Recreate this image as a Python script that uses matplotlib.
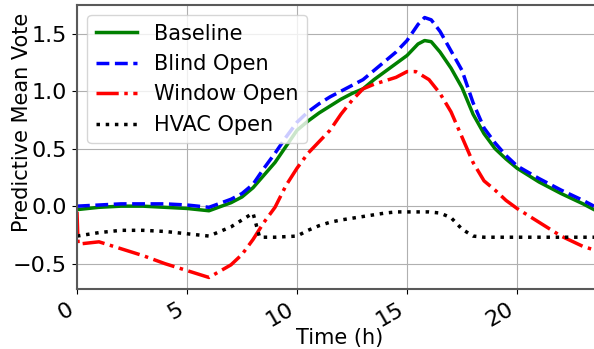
import numpy as np
from matplotlib import pyplot as plt

# hours and predicted mean vote for each case
base_t = [0, 1, 2, 3, 4, 5, 6, 7, 7.5, 8, 8.5, 9, 9.5, 10, 10.5, 11, 11.5, 12, 12.5, 13, 13.5, 14, 14.5, 15,
          15.5, 15.8, 16.1, 16.5, 17, 17.5, 18, 18.5, 19, 19.5, 20, 21, 22, 23, 23.5]
base_v = [-0.03, -0.01, 0.0, 0.0, -0.01, -0.02, -0.04, 0.03, 0.08, 0.16, 0.27, 0.38, 0.52, 0.66, 0.74, 0.81, 0.87,
          0.93, 0.98, 1.02, 1.1, 1.17, 1.24, 1.31, 1.41, 1.44, 1.43, 1.34, 1.2, 1.03, 0.8, 0.63, 0.5, 0.41, 0.33,
          0.21, 0.11, 0.02, -0.03]

blind_t = base_t
blind_v = [0.0, 0.01, 0.02, 0.02, 0.02, 0.01, -0.01, 0.06, 0.11, 0.19, 0.33, 0.46, 0.6, 0.73, 0.82, 0.89, 0.95,
           1.0, 1.05, 1.1, 1.18, 1.26, 1.34, 1.44, 1.58, 1.64, 1.62, 1.52, 1.35, 1.18, 0.9, 0.68, 0.55, 0.44, 0.35,
           0.24, 0.14, 0.05, 0.0]

window_t = [0, 0.05, 1, 2, 3, 4, 5, 6, 7, 7.5, 8, 8.5, 9, 9.5, 10, 10.5, 11, 11.5, 12, 12.5, 13, 13.5, 14, 14.5,
            15, 15.4, 16, 16.5, 17, 17.5, 18, 18.5, 19, 19.5, 20, 21, 22, 23, 23.5]
window_v = [-0.05, -0.33, -0.31, -0.37, -0.43, -0.5, -0.56, -0.62, -0.51, -0.42, -0.29, -0.14, -0.01, 0.18, 0.33,
            0.46, 0.56, 0.66, 0.8, 0.92, 1.02, 1.06, 1.09, 1.12, 1.17, 1.17, 1.1, 0.98, 0.82, 0.6, 0.38, 0.22, 0.14,
            0.05, -0.02, -0.14, -0.26, -0.35, -0.38]

hvac_t = [0, 1, 2, 3, 4, 5, 6, 7, 7.5, 8, 8.3, 9, 10, 10.5, 11, 11.5, 12, 13, 14, 14.5, 15, 16, 16.5, 17, 17.5,
          18, 18.5, 19, 20, 21, 22, 23, 23.5]
hvac_v = [-0.26, -0.23, -0.21, -0.21, -0.22, -0.24, -0.26, -0.18, -0.12, -0.06, -0.27, -0.27, -0.26, -0.21, -0.17,
          -0.14, -0.12, -0.09, -0.06, -0.05, -0.05, -0.05, -0.06, -0.1, -0.2, -0.26, -0.27, -0.27, -0.27, -0.27,
          -0.27, -0.27, -0.27]

fig = plt.figure(figsize=(5.94, 3.49), dpi=100)
ax = fig.add_axes([0.1296, 0.172, 0.889, 0.814])

ax.plot(base_t, base_v, color='green', lw=2.5, label='Baseline')
ax.plot(blind_t, blind_v, color='blue', ls='--', lw=2.5, label='Blind Open')
ax.plot(window_t, window_v, color='red', ls='-.', lw=2.5, label='Window Open')
ax.plot(hvac_t, hvac_v, color='black', ls=':', lw=2.5, label='HVAC Open')

ax.set_xlim(0, 24)
ax.set_ylim(-0.72, 1.75)
ax.set_xticks([0, 5, 10, 15, 20])
ax.set_yticks([-0.5, 0.0, 0.5, 1.0, 1.5])
ax.grid(True)
ax.tick_params(labelsize=16)
for s in ax.spines.values():
    s.set_color('0.35')
    s.set_linewidth(1.5)
for lab in ax.get_xticklabels():
    lab.set_rotation(30)
    lab.set_ha('right')

ax.set_xlabel('Time (h)', fontsize=15)
ax.set_ylabel('Predictive Mean Vote', fontsize=15)
ax.xaxis.set_label_coords(0.498, -0.138)
ax.yaxis.set_label_coords(-0.085, 0.585)
ax.legend(loc='upper left', fontsize=15)

fig.savefig('out.png', dpi=100)
